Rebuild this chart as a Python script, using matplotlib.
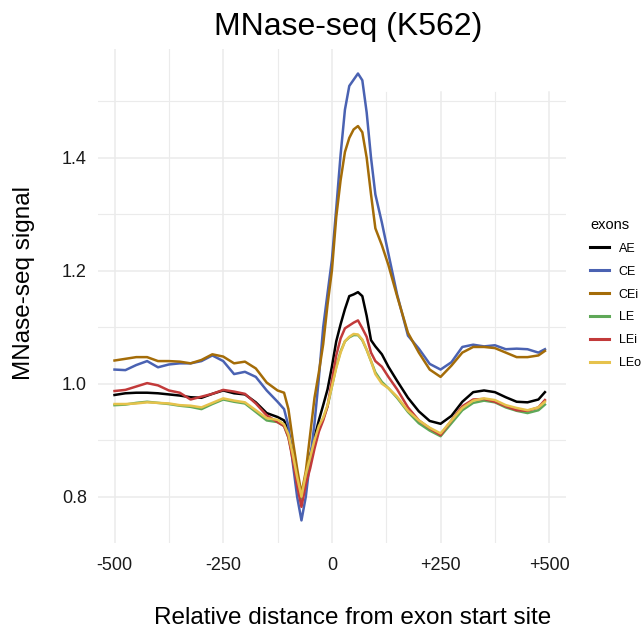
import matplotlib
matplotlib.use("Agg")
import matplotlib.pyplot as plt

plt.rcParams["font.family"] = ["Liberation Sans", "DejaVu Sans"]

# relative position (bp) of each sample
pos = [-500, -475, -450, -425, -400, -375, -350, -325, -300, -275, -250, -225,
       -200, -175, -150, -125, -110, -100, -90, -80, -70, -60, -50, -40, -30,
       -20, -10, 0, 10, 20, 30, 40, 50, 60, 70, 80, 90, 100, 115, 130, 150,
       175, 200, 225, 250, 275, 300, 325, 350, 375, 400, 425, 450, 475, 490]

ae = [0.980, 0.983, 0.984, 0.984, 0.983, 0.981, 0.979, 0.976, 0.975, 0.982, 0.988, 0.983,
      0.981, 0.967, 0.948, 0.941, 0.935, 0.915, 0.875, 0.830, 0.797, 0.838, 0.873, 0.905, 0.935,
      0.962, 0.990, 1.030, 1.075, 1.105, 1.132, 1.155, 1.158, 1.162, 1.155, 1.120, 1.077, 1.066, 1.052, 1.030, 1.005,
      0.975, 0.951, 0.934, 0.929, 0.943, 0.968, 0.985, 0.988, 0.985, 0.976, 0.968, 0.967, 0.972, 0.985]

ce = [1.025, 1.024, 1.033, 1.040, 1.029, 1.034, 1.036, 1.036, 1.040, 1.050, 1.040, 1.017,
      1.021, 1.012, 0.988, 0.968, 0.955, 0.925, 0.860, 0.800, 0.758, 0.800, 0.865, 0.930, 1.010,
      1.100, 1.160, 1.219, 1.310, 1.405, 1.485, 1.527, 1.538, 1.549, 1.537, 1.480, 1.400, 1.335, 1.285, 1.230, 1.158,
      1.085, 1.062, 1.035, 1.025, 1.038, 1.065, 1.069, 1.066, 1.068, 1.061, 1.062, 1.061, 1.055, 1.061]

cei = [1.041, 1.044, 1.047, 1.047, 1.040, 1.040, 1.039, 1.036, 1.042, 1.052, 1.048, 1.036,
       1.039, 1.027, 1.002, 0.988, 0.984, 0.955, 0.900, 0.850, 0.805, 0.845, 0.910, 0.975, 1.020,
       1.070, 1.140, 1.200, 1.295, 1.360, 1.410, 1.435, 1.450, 1.456, 1.445, 1.400, 1.335, 1.275, 1.245, 1.210, 1.155,
       1.090, 1.055, 1.025, 1.012, 1.032, 1.055, 1.065, 1.065, 1.063, 1.055, 1.047, 1.047, 1.050, 1.058]

le = [0.962, 0.963, 0.966, 0.968, 0.966, 0.964, 0.961, 0.959, 0.955, 0.964, 0.972, 0.968,
      0.965, 0.950, 0.935, 0.932, 0.925, 0.905, 0.870, 0.828, 0.792, 0.832, 0.865, 0.895, 0.920,
      0.938, 0.960, 0.995, 1.030, 1.057, 1.075, 1.082, 1.086, 1.086, 1.077, 1.060, 1.040, 1.020, 1.003, 0.992, 0.975,
      0.950, 0.930, 0.917, 0.907, 0.930, 0.953, 0.966, 0.970, 0.967, 0.958, 0.952, 0.948, 0.953, 0.963]

lei = [0.987, 0.989, 0.995, 1.001, 0.997, 0.988, 0.984, 0.972, 0.977, 0.982, 0.989, 0.986,
       0.982, 0.965, 0.944, 0.932, 0.925, 0.905, 0.865, 0.820, 0.782, 0.822, 0.850, 0.885, 0.915,
       0.935, 0.960, 1.005, 1.050, 1.080, 1.098, 1.103, 1.108, 1.112, 1.098, 1.083, 1.055, 1.040, 1.030, 1.012, 0.990,
       0.958, 0.935, 0.921, 0.909, 0.935, 0.960, 0.972, 0.973, 0.968, 0.960, 0.953, 0.952, 0.958, 0.971]

leo = [0.964, 0.964, 0.965, 0.967, 0.966, 0.965, 0.962, 0.961, 0.958, 0.966, 0.974, 0.970,
       0.967, 0.953, 0.939, 0.936, 0.928, 0.910, 0.875, 0.835, 0.800, 0.840, 0.870, 0.900, 0.925,
       0.940, 0.962, 0.995, 1.028, 1.055, 1.075, 1.083, 1.088, 1.087, 1.078, 1.060, 1.040, 1.017, 1.000, 0.992, 0.977,
       0.952, 0.935, 0.922, 0.912, 0.935, 0.957, 0.970, 0.974, 0.971, 0.962, 0.957, 0.953, 0.958, 0.968]

series = {"AE": ae, "CE": ce, "CEi": cei, "LE": le, "LEi": lei, "LEo": leo}
colors = {"AE": "#000000", "CE": "#4A62B2", "CEi": "#A46C08",
          "LE": "#5FA858", "LEi": "#C23A3A", "LEo": "#E6C24C"}

xticks = [-500, -250, 0, 250, 500]
xlabels = ["-500", "-250", "0", "+250", "+500"]
xminor = [-375, -125, 125, 375]
yticks = [0.8, 1.0, 1.2, 1.4]
yminor = [0.9, 1.1, 1.3, 1.5]

W, H = 642, 629
fig = plt.figure(figsize=(W / 100, H / 100), dpi=100)
ax = fig.add_axes([98 / W, 1 - 543 / H, 468 / W, 494 / H])
ax.set_xlim(-538, 538.5)
ax.set_ylim(0.718, 1.5924)

grid = "#EBEBEB"
# the top right corner of the panel has no vertical grid in the original
top_cut = (1.516 - 0.718) / (1.5924 - 0.718)
for v in xticks + xminor:
    lw = 1.1 if v in xticks else 0.8
    ax.axvline(v, ymax=(top_cut if v > 100 else 1), color=grid, lw=lw, zorder=0)
for h in yticks + yminor:
    lw = 1.1 if h in yticks else 0.8
    ax.axhline(h, color=grid, lw=lw, zorder=0)

for name, vals in series.items():
    ax.plot(pos, vals, color=colors[name], lw=1.8, label=name, solid_joinstyle="round")

for s in ax.spines.values():
    s.set_visible(False)
ax.set_xticks(xticks)
ax.set_xticklabels(xlabels)
ax.set_yticks(yticks)
ax.set_yticklabels(["0.8", "1.0", "1.2", "1.4"])
ax.tick_params(length=0, labelsize=13, colors="#1a1a1a")
ax.tick_params(axis="x", pad=10)
ax.tick_params(axis="y", pad=8)

fig.text(348 / W, 1 - 27 / H, "MNase-seq (K562)", ha="center", va="center", fontsize=23)
fig.text(353 / W, 1 - 618 / H, "Relative distance from exon start site", ha="center", va="center", fontsize=17.5)
fig.text(24 / W, 1 - 283 / H, "MNase-seq signal", ha="center", va="center", rotation=90, fontsize=17.5)

leg = ax.legend(loc="upper left", bbox_to_anchor=(585 / W, 1 - 213 / H), bbox_transform=fig.transFigure,
                frameon=False, fontsize=9, title="exons", title_fontsize=10.5, alignment="left",
                handlelength=1.5, handletextpad=0.8, labelspacing=0.87, borderaxespad=0)
for line in leg.get_lines():
    line.set_linewidth(2.2)

fig.savefig("out.png", dpi=100)
